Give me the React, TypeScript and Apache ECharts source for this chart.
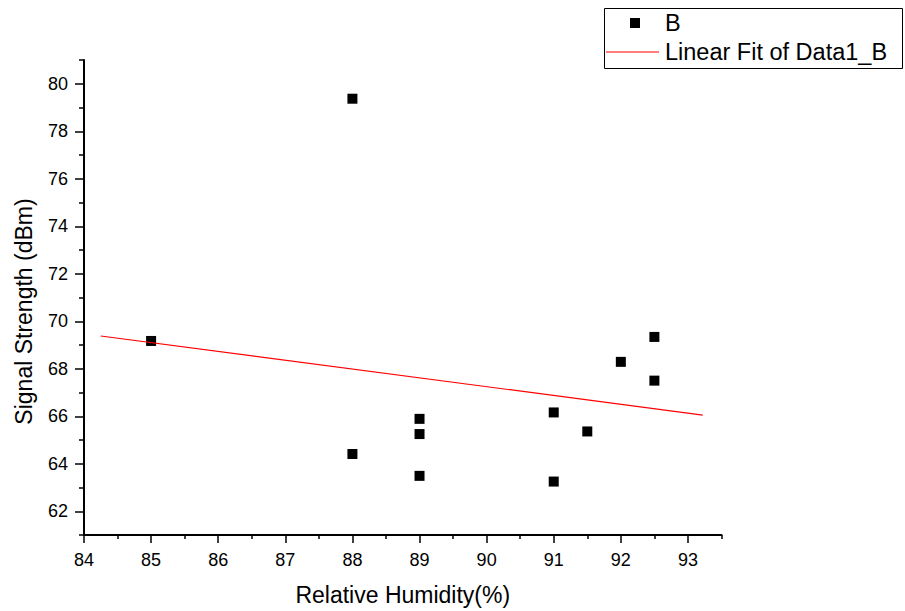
import React, { useEffect, useRef } from 'react';
import * as echarts from 'echarts';

// Data
const humidity = [85, 88, 88, 89, 89, 89, 91, 91, 91.5, 92, 92.5, 92.5];
const signal = [69.17, 79.37, 64.41, 65.89, 65.25, 63.49, 66.16, 63.25, 65.36, 68.29, 69.34, 67.5];
const fitX = [84.25, 93.22];
const fitY = [69.38, 66.05];

const xMajor = [84, 85, 86, 87, 88, 89, 90, 91, 92, 93];
const xMinor = [84.5, 85.5, 86.5, 87.5, 88.5, 89.5, 90.5, 91.5, 92.5, 93.5];
const yMajor = [62, 64, 66, 68, 70, 72, 74, 76, 78, 80];
const yMinor = [61, 63, 65, 67, 69, 71, 73, 75, 77, 79, 81];

const seriesNames = ['B', 'Linear Fit of Data1_B'];
const xTitle = 'Relative Humidity(%)';
const yTitle = 'Signal Strength (dBm)';

const FONT = '"Liberation Sans", Arial, sans-serif';

export default function App() {
  const ref = useRef<HTMLDivElement>(null);
  useEffect(() => {
    document.body.style.margin = '0';
    const chart = echarts.init(ref.current!, undefined, { renderer: 'svg' });
    const X = { min: 84, max: 93.5 };
    const Y = { min: 61, max: 81 };
    chart.setOption({
      animation: false,
      backgroundColor: '#fff',
      grid: { left: 84, right: 183.5, top: 60, bottom: 72 },
      xAxis: [
        {
          type: 'value', ...X, position: 'bottom',
          name: xTitle, nameLocation: 'middle', nameGap: 48,
          nameTextStyle: { fontFamily: FONT, fontSize: 23, color: '#000' },
          axisLine: { show: true, onZero: false, lineStyle: { color: '#000', width: 2 } },
          axisTick: { show: true, inside: false, length: 8, customValues: xMajor, lineStyle: { color: '#000', width: 1.5 } },
          axisLabel: { show: true, margin: 16, customValues: xMajor, fontFamily: FONT, fontSize: 18, color: '#000' },
          splitLine: { show: false },
        },
        {
          type: 'value', ...X, position: 'bottom',
          axisLine: { show: false, onZero: false },
          axisTick: { show: true, inside: false, length: 4, customValues: xMinor, lineStyle: { color: '#000', width: 1.5 } },
          axisLabel: { show: false },
          splitLine: { show: false },
        },
      ],
      yAxis: [
        {
          type: 'value', ...Y, position: 'left',
          name: yTitle, nameLocation: 'middle', nameGap: 49,
          nameTextStyle: { fontFamily: FONT, fontSize: 23, color: '#000', padding: [0, 28, 0, 0] },
          axisLine: { show: true, onZero: false, lineStyle: { color: '#000', width: 2 } },
          axisTick: { show: true, inside: false, length: 9, customValues: yMajor, lineStyle: { color: '#000', width: 1.5 } },
          axisLabel: { show: true, margin: 16, customValues: yMajor, fontFamily: FONT, fontSize: 18, color: '#000' },
          splitLine: { show: false },
        },
        {
          type: 'value', ...Y, position: 'left',
          axisLine: { show: false, onZero: false },
          axisTick: { show: true, inside: false, length: 5, customValues: yMinor, lineStyle: { color: '#000', width: 1.5 } },
          axisLabel: { show: false },
          splitLine: { show: false },
        },
      ],
      series: [
        {
          name: seriesNames[0],
          type: 'scatter',
          symbol: 'rect',
          symbolSize: 10,
          itemStyle: { color: '#000', opacity: 1 },
          data: humidity.map((h, i) => [h, signal[i]]),
        },
        {
          name: seriesNames[1],
          type: 'line',
          symbol: 'none',
          lineStyle: { color: '#ff0000', width: 1.2 },
          data: fitX.map((x, i) => [x, fitY[i]]),
        },
      ],
      graphic: [
        { type: 'rect', left: 604, top: 8, shape: { width: 298, height: 60 }, style: { fill: '#fff', stroke: '#000', lineWidth: 1 } },
        { type: 'rect', left: 630, top: 18, shape: { width: 10, height: 10 }, style: { fill: '#000' } },
        { type: 'text', left: 665, top: 11, style: { text: seriesNames[0], font: `23.5px ${FONT}`, fill: '#000' } },
        { type: 'line', shape: { x1: 606, y1: 52, x2: 659, y2: 52 }, style: { stroke: '#ff0000', lineWidth: 1.2 } },
        { type: 'text', left: 665, top: 40, style: { text: seriesNames[1], font: `23.5px ${FONT}`, fill: '#000' } },
      ],
    });
    return () => chart.dispose();
  }, []);
  return <div ref={ref} style={{ width: 905, height: 611 }} />;
}
